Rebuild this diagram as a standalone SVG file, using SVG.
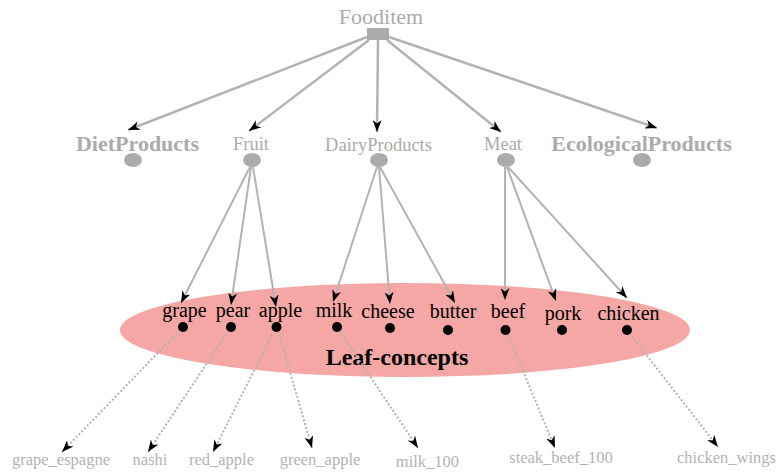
<svg xmlns="http://www.w3.org/2000/svg" width="779" height="472" viewBox="0 0 779 472">
<style>
.t{font-family:"Liberation Serif","Times New Roman",serif;text-anchor:middle}
.g{fill:#ababab}
.cat{font-size:18.5px}
.bold{font-size:22px;font-weight:bold}
.leaf{font-size:20px;fill:#000}
.sub{font-size:16.5px;fill:#b3b3b3}
.e1{stroke:#b3b3b3;stroke-width:2.5;fill:none;marker-end:url(#ah)}
.e2{stroke:#b3b3b3;stroke-width:2;fill:none;marker-end:url(#ah)}
.e3{stroke:#b3b3b3;stroke-width:2;fill:none;stroke-dasharray:2,2;marker-end:url(#ah)}
.dot{fill:#000}
.cn{fill:#ababab}
</style>
<defs>
<marker id="ah" markerUnits="userSpaceOnUse" viewBox="0 0 12 9" refX="12" refY="4.5" markerWidth="12" markerHeight="9" orient="auto">
<path d="M0,0 L12,4.5 L0,9 L3.5,4.5 z" fill="#000"/>
</marker>
</defs>
<rect width="779" height="472" fill="#fff"/>
<g id="leaf-area">
<ellipse cx="405" cy="330" rx="285" ry="47" fill="#f4a7a4"/>
<text class="t" x="397" y="365" font-size="24" font-weight="bold" fill="#000">Leaf-concepts</text>
</g>
<g id="connectors">
<line class="e1" x1="367" y1="37" x2="128" y2="130"/>
<line class="e1" x1="369" y1="40" x2="249" y2="131"/>
<line class="e1" x1="378" y1="40" x2="377" y2="132"/>
<line class="e1" x1="387" y1="40" x2="501" y2="132"/>
<line class="e1" x1="389" y1="37" x2="657" y2="128"/>
<line class="e2" x1="250" y1="167" x2="181" y2="303"/>
<line class="e2" x1="251" y1="167" x2="231" y2="305"/>
<line class="e2" x1="253" y1="167" x2="276" y2="307"/>
<line class="e2" x1="377" y1="167" x2="333" y2="302"/>
<line class="e2" x1="379" y1="167" x2="390" y2="304"/>
<line class="e2" x1="380" y1="167" x2="455" y2="303"/>
<line class="e2" x1="505" y1="167" x2="505" y2="300"/>
<line class="e2" x1="507" y1="167" x2="556" y2="301"/>
<line class="e2" x1="508" y1="167" x2="627" y2="298"/>
<line class="e3" x1="183" y1="327" x2="62" y2="452"/>
<line class="e3" x1="231" y1="327" x2="148" y2="452"/>
<line class="e3" x1="276" y1="327" x2="213" y2="452"/>
<line class="e3" x1="277" y1="327" x2="312" y2="448"/>
<line class="e3" x1="337" y1="327" x2="418" y2="448"/>
<line class="e3" x1="506" y1="330" x2="555" y2="448"/>
<line class="e3" x1="627" y1="330" x2="718" y2="447"/>
</g>
<g id="Fooditem">
<text class="t g" x="381" y="24" font-size="22">Fooditem</text>
<rect x="367" y="28" width="22" height="12" fill="#ababab"/>
</g>
<g id="DietProducts">
<text class="t g bold" x="137.5" y="151">DietProducts</text>
<ellipse class="cn" cx="133" cy="160" rx="9" ry="7"/>
</g>
<g id="Fruit">
<text class="t g cat" x="251" y="150">Fruit</text>
<ellipse class="cn" cx="252" cy="160" rx="9" ry="7"/>
</g>
<g id="DairyProducts">
<text class="t g cat" x="378.5" y="151">DairyProducts</text>
<ellipse class="cn" cx="379" cy="160" rx="9" ry="7"/>
</g>
<g id="Meat">
<text class="t g cat" x="503" y="150">Meat</text>
<ellipse class="cn" cx="506" cy="160" rx="9" ry="7"/>
</g>
<g id="EcologicalProducts">
<text class="t g bold" x="641.5" y="151">EcologicalProducts</text>
<ellipse class="cn" cx="642" cy="160" rx="9" ry="7"/>
</g>
<g id="grape"><text class="t leaf" x="184.5" y="317">grape</text><circle class="dot" cx="183" cy="327" r="5"/></g>
<g id="pear"><text class="t leaf" x="233" y="317">pear</text><circle class="dot" cx="231" cy="327" r="5"/></g>
<g id="apple"><text class="t leaf" x="280.5" y="317">apple</text><circle class="dot" cx="276.5" cy="327" r="5"/></g>
<g id="milk"><text class="t leaf" x="334" y="317">milk</text><circle class="dot" cx="337" cy="327" r="5"/></g>
<g id="cheese"><text class="t leaf" x="388" y="318">cheese</text><circle class="dot" cx="390" cy="328" r="5"/></g>
<g id="butter"><text class="t leaf" x="453" y="318">butter</text><circle class="dot" cx="448" cy="330" r="5"/></g>
<g id="beef"><text class="t leaf" x="508" y="318">beef</text><circle class="dot" cx="505.5" cy="330" r="5"/></g>
<g id="pork"><text class="t leaf" x="563" y="320">pork</text><circle class="dot" cx="562" cy="330" r="5"/></g>
<g id="chicken"><text class="t leaf" x="628.5" y="320">chicken</text><circle class="dot" cx="627" cy="330" r="5"/></g>
<g id="grape_espagne"><text class="t sub" x="61" y="465">grape_espagne</text></g>
<g id="nashi"><text class="t sub" x="150" y="465">nashi</text></g>
<g id="red_apple"><text class="t sub" x="221.5" y="465">red_apple</text></g>
<g id="green_apple"><text class="t sub" x="320" y="465">green_apple</text></g>
<g id="milk_100"><text class="t sub" x="427.5" y="467">milk_100</text></g>
<g id="steak_beef_100"><text class="t sub" x="561" y="463">steak_beef_100</text></g>
<g id="chicken_wings"><text class="t sub" x="726.5" y="463">chicken_wings</text></g>
</svg>
